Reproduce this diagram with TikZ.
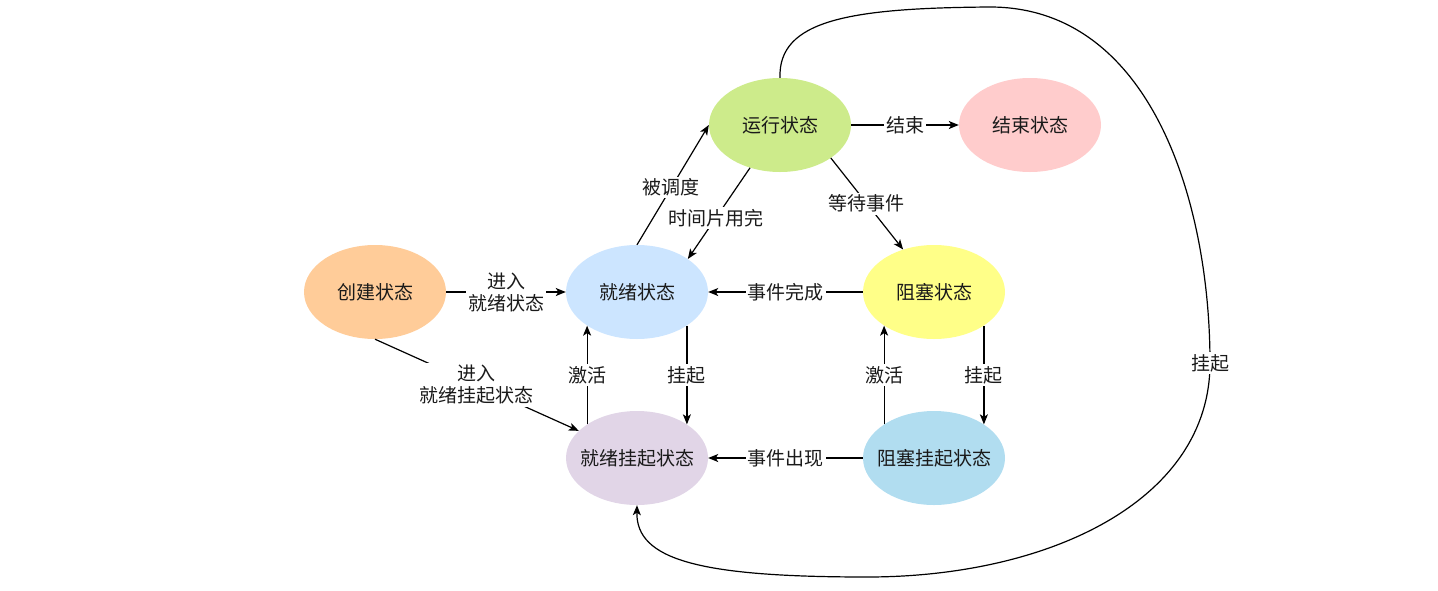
\documentclass[tikz,border=0pt]{standalone}
\usepackage{fontspec}
\setmainfont{Noto Sans CJK SC}
\usetikzlibrary{arrows.meta,shapes.geometric}
\definecolor{cRun}{HTML}{CDEB8B}
\definecolor{cEnd}{HTML}{FFCCCC}
\definecolor{cReady}{HTML}{CCE5FF}
\definecolor{cCreate}{HTML}{FFCC99}
\definecolor{cBlock}{HTML}{FFFF88}
\definecolor{cRsus}{HTML}{E1D5E7}
\definecolor{cBsus}{HTML}{B1DDF0}
\definecolor{cText}{HTML}{1A1A1A}
\tikzset{
  state/.style={ellipse, minimum width=142pt, minimum height=94pt, inner sep=0pt, draw=none, text=cText, font=\fontsize{19}{22}\selectfont},
  lbl/.style={fill=white, inner sep=2pt, align=center, text=cText, font=\fontsize{19}{22}\selectfont},
  edge/.style={line width=1.2pt, -{Stealth[length=10pt,width=8pt,inset=2.5pt]}},
}
\begin{document}
\begin{tikzpicture}[x=1pt,y=-1pt]
\useasboundingbox (0,0) rectangle (1438,590);
\node[state, fill=cRun] (run) at (780,125) {\makebox[0pt]{运行状态}};
\node[state, fill=cEnd] (end) at (1030,125) {\makebox[0pt]{结束状态}};
\node[state, fill=cCreate] (create) at (375,292) {\makebox[0pt]{创建状态}};
\node[state, fill=cReady] (ready) at (637,292) {\makebox[0pt]{就绪状态}};
\node[state, fill=cBlock] (block) at (934,292) {\makebox[0pt]{阻塞状态}};
\node[state, fill=cRsus] (rsus) at (637,458) {\makebox[0pt]{就绪挂起状态}};
\node[state, fill=cBsus] (bsus) at (934,458) {\makebox[0pt]{阻塞挂起状态}};

\draw[edge] (run.east) -- node[lbl] {结束} (end.west);
\draw[edge] (ready.north) -- node[lbl, pos=0.48] {被调度} (run.west);
\draw[edge] (run.235) -- node[lbl, pos=0.55] {时间片用完} (ready.33);
\draw[edge] (run.-33) -- node[lbl, pos=0.5] {等待事件} (block.126);
\draw[edge] (create.east) -- node[lbl] {进入\\就绪状态} (ready.west);
\draw[edge] (block.west) -- node[lbl] {事件完成} (ready.east);
\draw[edge] (create.south) -- node[lbl, pos=0.5] {进入\\就绪挂起状态} (rsus.155);
\draw[edge] (rsus.146) -- node[lbl] {激活} (ready.214);
\draw[edge] (ready.326) -- node[lbl] {挂起} (rsus.34);
\draw[edge] (bsus.146) -- node[lbl] {激活} (block.214);
\draw[edge] (block.326) -- node[lbl] {挂起} (bsus.34);
\draw[edge] (bsus.west) -- node[lbl] {事件出现} (rsus.east);
\draw[edge] (run.north) .. controls (778,20) and (850,8) .. (990,7)
  .. controls (1150,7) and (1210,200) .. (1210,363) node[lbl] {挂起}
  .. controls (1210,500) and (1050,577) .. (867,577)
  .. controls (700,577) and (636,560) .. (rsus.south);
\end{tikzpicture}
\end{document}
